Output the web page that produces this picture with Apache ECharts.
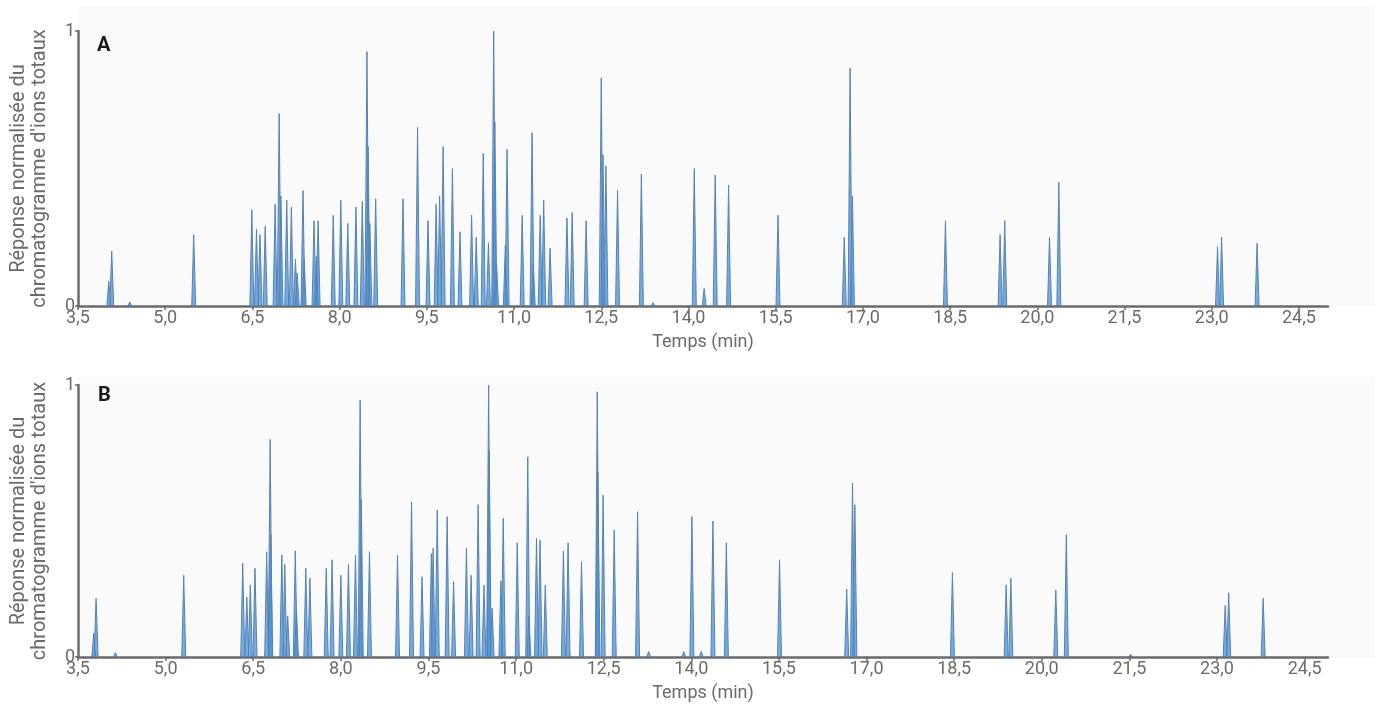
<!DOCTYPE html>
<html>
<head>
<meta charset="utf-8">
<title>Chromatogrammes A / B</title>
<script src="https://cdn.jsdelivr.net/npm/echarts@6/dist/echarts.min.js"></script>
<style>
  html, body { margin: 0; padding: 0; background: #fff; }
  #chart { width: 1380px; height: 706px; }
</style>
</head>
<body>
<div id="chart"></div>
<script>
// temps de rétention (min) et hauteur normalisée de chaque pic
var timesA = [4.03, 4.08, 4.39, 5.49, 6.49, 6.57, 6.63, 6.72, 6.89, 6.96, 6.99, 7.09, 7.17, 7.24, 7.27,
  7.37, 7.39, 7.56, 7.60, 7.63, 7.89, 8.02, 8.14, 8.28, 8.39, 8.47, 8.49, 8.52, 8.62,
  9.09, 9.34, 9.52, 9.66, 9.72, 9.78, 9.94, 10.07, 10.27, 10.35, 10.47, 10.56, 10.65, 10.67, 10.70,
  10.85, 10.88, 11.14, 11.31, 11.33, 11.45, 11.51, 11.62, 11.91, 12.00, 12.24, 12.50, 12.53, 12.58,
  12.78, 13.19, 13.39, 14.10, 14.27, 14.46, 14.69, 15.54, 16.68, 16.78, 16.82, 18.42, 19.36, 19.44,
  20.21, 20.37, 23.10, 23.17, 23.78];
var heightsA = [0.09, 0.20, 0.015, 0.26, 0.35, 0.28, 0.26, 0.29, 0.37, 0.70, 0.40, 0.385, 0.36, 0.17, 0.12,
  0.42, 0.17, 0.31, 0.18, 0.31, 0.33, 0.385, 0.30, 0.36, 0.38, 0.925, 0.58, 0.30, 0.39,
  0.39, 0.65, 0.31, 0.37, 0.40, 0.58, 0.50, 0.27, 0.33, 0.25, 0.555, 0.23, 1.0, 0.67, 0.15,
  0.22, 0.57, 0.33, 0.63, 0.15, 0.33, 0.385, 0.21, 0.32, 0.34, 0.31, 0.83, 0.55, 0.51,
  0.42, 0.48, 0.012, 0.50, 0.064, 0.476, 0.44, 0.33, 0.25, 0.865, 0.40, 0.31, 0.26, 0.31,
  0.25, 0.45, 0.216, 0.25, 0.228];

var timesB = [3.77, 3.81, 4.14, 5.31, 6.32, 6.39, 6.45, 6.53, 6.73, 6.79, 6.80, 6.99, 7.04, 7.09, 7.22, 7.24,
  7.40, 7.47, 7.75, 7.85, 8.00, 8.13, 8.25, 8.33, 8.35, 8.49, 8.97, 9.21, 9.39, 9.55, 9.58, 9.65,
  9.82, 9.93, 10.15, 10.23, 10.35, 10.45, 10.53, 10.54, 10.59, 10.74, 10.78, 11.02, 11.20, 11.22,
  11.35, 11.41, 11.50, 11.81, 11.89, 12.12, 12.39, 12.40, 12.49, 12.68, 13.08, 13.27, 13.87, 14.01,
  14.17, 14.37, 14.60, 15.51, 16.66, 16.76, 16.80, 18.47, 19.39, 19.47, 20.24, 20.42, 21.52,
  23.14, 23.20, 23.79];
var heightsB = [0.087, 0.216, 0.016, 0.30, 0.344, 0.22, 0.265, 0.326, 0.387, 0.80, 0.45, 0.375, 0.34, 0.15, 0.39, 0.17,
  0.326, 0.29, 0.326, 0.357, 0.30, 0.34, 0.375, 0.945, 0.58, 0.387, 0.375, 0.57, 0.295, 0.38, 0.40, 0.54,
  0.516, 0.277, 0.40, 0.30, 0.56, 0.265, 1.0, 0.76, 0.18, 0.28, 0.51, 0.42, 0.736, 0.15,
  0.436, 0.43, 0.265, 0.39, 0.42, 0.35, 0.975, 0.68, 0.595, 0.467, 0.534, 0.02, 0.02, 0.516,
  0.02, 0.50, 0.42, 0.357, 0.25, 0.64, 0.56, 0.31, 0.265, 0.29, 0.246, 0.45, 0.01,
  0.19, 0.236, 0.216];

var tickLabels = [3.5, 5.0, 6.5, 8.0, 9.5, 11.0, 12.5, 14.0, 15.5, 17.0, 18.5, 20.0, 21.5, 23.0, 24.5];
var yTicks = [0, 1];

var peakHalfWidth = 0.034; // demi-largeur à la base d'un pic (min)
var grey = '#6b6b6b';

function toPairs(times, heights) {
  return times.map(function (t, i) { return [t, heights[i]]; });
}

// un pic = triangle étroit dessiné avec les coordonnées des axes
function renderPeak(params, api) {
  var t = api.value(0), h = api.value(1);
  var left = api.coord([t - peakHalfWidth, 0]);
  var top = api.coord([t, h]);
  var right = api.coord([t + peakHalfWidth, 0]);
  return {
    type: 'polygon',
    shape: { points: [left, top, right] },
    style: { fill: 'rgba(74,144,214,0.75)', stroke: '#5683b3', lineWidth: 1 }
  };
}

function xAxisFor(idx, max) {
  return {
    type: 'value', gridIndex: idx, min: 3.5, max: max,
    name: 'Temps (min)', nameLocation: 'middle', nameGap: 27,
    nameTextStyle: { color: grey, fontSize: 18, fontFamily: 'Roboto', verticalAlign: 'top' },
    axisLine: { show: true, lineStyle: { color: grey, width: 2.5 } },
    axisTick: { show: true, length: 4, lineStyle: { color: grey, width: 1.5 }, customValues: tickLabels },
    axisLabel: {
      color: grey, fontSize: 18, fontFamily: 'Roboto', margin: 3, customValues: tickLabels,
      formatter: function (v) { return v.toFixed(1).replace('.', ','); }
    },
    splitLine: { show: false }
  };
}

function yAxisFor(idx) {
  return {
    type: 'value', gridIndex: idx, min: 0, max: 1,
    name: 'Réponse normalisée du\nchromatogramme d\'ions totaux',
    nameLocation: 'middle', nameGap: 28, nameRotate: 90,
    nameTextStyle: { color: grey, fontSize: 20, fontFamily: 'Roboto', lineHeight: 21 },
    axisLine: { show: true, lineStyle: { color: grey, width: 2.5 } },
    axisTick: { show: true, length: 3, lineStyle: { color: grey, width: 1.5 }, customValues: yTicks },
    axisLabel: { color: grey, fontSize: 18, fontFamily: 'Roboto', margin: 3, customValues: yTicks },
    splitLine: { show: false }
  };
}

var chart = echarts.init(document.getElementById('chart'), null, { renderer: 'canvas' });

chart.setOption({
  animation: false,
  backgroundColor: '#ffffff',
  title: [
    { text: 'A', left: 92, top: 31, textStyle: { fontSize: 20, fontWeight: 'bold', color: '#1a1a1a', fontFamily: 'Roboto' } },
    { text: 'B', left: 93, top: 381, textStyle: { fontSize: 20, fontWeight: 'bold', color: '#1a1a1a', fontFamily: 'Roboto' } }
  ],
  graphic: [
    { type: 'rect', z: -10, shape: { x: 78, y: 7, width: 1297, height: 300 }, style: { fill: '#fafafa' } },
    { type: 'rect', z: -10, shape: { x: 78, y: 377, width: 1297, height: 281 }, style: { fill: '#fafafa' } }
  ],
  grid: [
    { left: 76, right: 52, top: 31, height: 275 },
    { left: 76, right: 52, top: 385, height: 272 }
  ],
  xAxis: [xAxisFor(0, 25.0), xAxisFor(1, 24.9)],
  yAxis: [yAxisFor(0), yAxisFor(1)],
  series: [
    { name: 'A', type: 'custom', xAxisIndex: 0, yAxisIndex: 0, clip: true,
      renderItem: renderPeak, encode: { x: 0, y: 1 }, data: toPairs(timesA, heightsA) },
    { name: 'B', type: 'custom', xAxisIndex: 1, yAxisIndex: 1, clip: true,
      renderItem: renderPeak, encode: { x: 0, y: 1 }, data: toPairs(timesB, heightsB) }
  ]
});
</script>
</body>
</html>
